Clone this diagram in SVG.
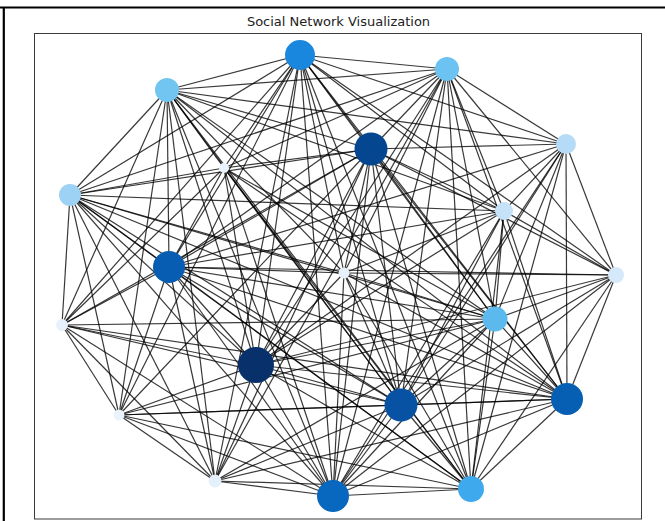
<svg xmlns="http://www.w3.org/2000/svg" width="665" height="521" viewBox="0 0 665 521">
  <style>
    .frame { fill: none; stroke: #000; stroke-width: 2.2; }
    .axes { fill: none; stroke: #3a3a3a; stroke-width: 1; }
    .title { font-family: "DejaVu Sans", "Liberation Sans", sans-serif; font-size: 13px; fill: #222; text-anchor: middle; }
    #edges line { stroke: #000; stroke-opacity: 0.78; stroke-width: 1.2; }
  </style>
  <rect width="665" height="521" fill="#fff"/>
  <!-- figure frame: top and left rules -->
  <path class="frame" d="M0 7.5 H665 M3.8 7.5 V521"/>
  <!-- plot area -->
  <rect class="axes" x="34.5" y="33.5" width="607" height="485.5"/>
  <text class="title" x="338.5" y="26">Social Network Visualization</text>

  <g id="edges">
    <!-- n1 -->
    <line x1="300" y1="55" x2="447" y2="69"/>
    <line x1="300" y1="55" x2="167" y2="90"/>
    <line x1="300" y1="55" x2="371" y2="149"/>
    <line x1="300" y1="55" x2="566" y2="144"/>
    <line x1="300" y1="55" x2="224" y2="168"/>
    <line x1="300" y1="55" x2="70" y2="195"/>
    <line x1="300" y1="55" x2="504" y2="211"/>
    <line x1="300" y1="55" x2="169" y2="267"/>
    <line x1="300" y1="55" x2="344" y2="273"/>
    <line x1="300" y1="55" x2="616" y2="275"/>
    <line x1="300" y1="55" x2="62" y2="325"/>
    <line x1="300" y1="55" x2="495" y2="319"/>
    <line x1="300" y1="55" x2="256" y2="365"/>
    <line x1="300" y1="55" x2="401" y2="405"/>
    <line x1="300" y1="55" x2="567" y2="399"/>
    <line x1="300" y1="55" x2="119" y2="415"/>
    <line x1="300" y1="55" x2="215" y2="481"/>
    <line x1="300" y1="55" x2="333" y2="496"/>
    <line x1="300" y1="55" x2="471" y2="489"/>
    <!-- n2 -->
    <line x1="447" y1="69" x2="167" y2="90"/>
    <line x1="447" y1="69" x2="371" y2="149"/>
    <line x1="447" y1="69" x2="566" y2="144"/>
    <line x1="447" y1="69" x2="224" y2="168"/>
    <line x1="447" y1="69" x2="70" y2="195"/>
    <line x1="447" y1="69" x2="504" y2="211"/>
    <line x1="447" y1="69" x2="169" y2="267"/>
    <line x1="447" y1="69" x2="344" y2="273"/>
    <line x1="447" y1="69" x2="616" y2="275"/>
    <line x1="447" y1="69" x2="495" y2="319"/>
    <line x1="447" y1="69" x2="256" y2="365"/>
    <line x1="447" y1="69" x2="401" y2="405"/>
    <line x1="447" y1="69" x2="567" y2="399"/>
    <line x1="447" y1="69" x2="215" y2="481"/>
    <line x1="447" y1="69" x2="333" y2="496"/>
    <line x1="447" y1="69" x2="471" y2="489"/>
    <!-- n3 -->
    <line x1="167" y1="90" x2="371" y2="149"/>
    <line x1="167" y1="90" x2="566" y2="144"/>
    <line x1="167" y1="90" x2="224" y2="168"/>
    <line x1="167" y1="90" x2="70" y2="195"/>
    <line x1="167" y1="90" x2="504" y2="211"/>
    <line x1="167" y1="90" x2="169" y2="267"/>
    <line x1="167" y1="90" x2="344" y2="273"/>
    <line x1="167" y1="90" x2="62" y2="325"/>
    <line x1="167" y1="90" x2="495" y2="319"/>
    <line x1="167" y1="90" x2="256" y2="365"/>
    <line x1="167" y1="90" x2="401" y2="405"/>
    <line x1="167" y1="90" x2="567" y2="399"/>
    <line x1="167" y1="90" x2="119" y2="415"/>
    <line x1="167" y1="90" x2="215" y2="481"/>
    <line x1="167" y1="90" x2="333" y2="496"/>
    <line x1="167" y1="90" x2="471" y2="489"/>
    <!-- n4 -->
    <line x1="371" y1="149" x2="566" y2="144"/>
    <line x1="371" y1="149" x2="224" y2="168"/>
    <line x1="371" y1="149" x2="70" y2="195"/>
    <line x1="371" y1="149" x2="504" y2="211"/>
    <line x1="371" y1="149" x2="169" y2="267"/>
    <line x1="371" y1="149" x2="344" y2="273"/>
    <line x1="371" y1="149" x2="616" y2="275"/>
    <line x1="371" y1="149" x2="62" y2="325"/>
    <line x1="371" y1="149" x2="495" y2="319"/>
    <line x1="371" y1="149" x2="256" y2="365"/>
    <line x1="371" y1="149" x2="401" y2="405"/>
    <line x1="371" y1="149" x2="567" y2="399"/>
    <line x1="371" y1="149" x2="119" y2="415"/>
    <line x1="371" y1="149" x2="215" y2="481"/>
    <line x1="371" y1="149" x2="333" y2="496"/>
    <line x1="371" y1="149" x2="471" y2="489"/>
    <!-- n5 -->
    <line x1="566" y1="144" x2="504" y2="211"/>
    <line x1="566" y1="144" x2="169" y2="267"/>
    <line x1="566" y1="144" x2="616" y2="275"/>
    <line x1="566" y1="144" x2="495" y2="319"/>
    <line x1="566" y1="144" x2="256" y2="365"/>
    <line x1="566" y1="144" x2="401" y2="405"/>
    <line x1="566" y1="144" x2="567" y2="399"/>
    <line x1="566" y1="144" x2="333" y2="496"/>
    <line x1="566" y1="144" x2="471" y2="489"/>
    <!-- n6 -->
    <line x1="224" y1="168" x2="70" y2="195"/>
    <line x1="224" y1="168" x2="169" y2="267"/>
    <line x1="224" y1="168" x2="62" y2="325"/>
    <line x1="224" y1="168" x2="495" y2="319"/>
    <line x1="224" y1="168" x2="256" y2="365"/>
    <line x1="224" y1="168" x2="401" y2="405"/>
    <line x1="224" y1="168" x2="567" y2="399"/>
    <line x1="224" y1="168" x2="333" y2="496"/>
    <line x1="224" y1="168" x2="471" y2="489"/>
    <!-- n7 -->
    <line x1="70" y1="195" x2="504" y2="211"/>
    <line x1="70" y1="195" x2="169" y2="267"/>
    <line x1="70" y1="195" x2="344" y2="273"/>
    <line x1="70" y1="195" x2="62" y2="325"/>
    <line x1="70" y1="195" x2="495" y2="319"/>
    <line x1="70" y1="195" x2="256" y2="365"/>
    <line x1="70" y1="195" x2="401" y2="405"/>
    <line x1="70" y1="195" x2="567" y2="399"/>
    <line x1="70" y1="195" x2="119" y2="415"/>
    <line x1="70" y1="195" x2="215" y2="481"/>
    <line x1="70" y1="195" x2="333" y2="496"/>
    <line x1="70" y1="195" x2="471" y2="489"/>
    <!-- n8 -->
    <line x1="504" y1="211" x2="169" y2="267"/>
    <line x1="504" y1="211" x2="344" y2="273"/>
    <line x1="504" y1="211" x2="616" y2="275"/>
    <line x1="504" y1="211" x2="495" y2="319"/>
    <line x1="504" y1="211" x2="256" y2="365"/>
    <line x1="504" y1="211" x2="401" y2="405"/>
    <line x1="504" y1="211" x2="567" y2="399"/>
    <line x1="504" y1="211" x2="333" y2="496"/>
    <line x1="504" y1="211" x2="471" y2="489"/>
    <!-- n9 -->
    <line x1="169" y1="267" x2="344" y2="273"/>
    <line x1="169" y1="267" x2="616" y2="275"/>
    <line x1="169" y1="267" x2="62" y2="325"/>
    <line x1="169" y1="267" x2="495" y2="319"/>
    <line x1="169" y1="267" x2="256" y2="365"/>
    <line x1="169" y1="267" x2="401" y2="405"/>
    <line x1="169" y1="267" x2="567" y2="399"/>
    <line x1="169" y1="267" x2="119" y2="415"/>
    <line x1="169" y1="267" x2="215" y2="481"/>
    <line x1="169" y1="267" x2="333" y2="496"/>
    <line x1="169" y1="267" x2="471" y2="489"/>
    <!-- n10 -->
    <line x1="344" y1="273" x2="616" y2="275"/>
    <line x1="344" y1="273" x2="495" y2="319"/>
    <line x1="344" y1="273" x2="256" y2="365"/>
    <line x1="344" y1="273" x2="401" y2="405"/>
    <line x1="344" y1="273" x2="567" y2="399"/>
    <line x1="344" y1="273" x2="333" y2="496"/>
    <line x1="344" y1="273" x2="471" y2="489"/>
    <!-- n11 -->
    <line x1="616" y1="275" x2="495" y2="319"/>
    <line x1="616" y1="275" x2="256" y2="365"/>
    <line x1="616" y1="275" x2="401" y2="405"/>
    <line x1="616" y1="275" x2="567" y2="399"/>
    <line x1="616" y1="275" x2="333" y2="496"/>
    <line x1="616" y1="275" x2="471" y2="489"/>
    <!-- n12 -->
    <line x1="62" y1="325" x2="495" y2="319"/>
    <line x1="62" y1="325" x2="256" y2="365"/>
    <line x1="62" y1="325" x2="401" y2="405"/>
    <line x1="62" y1="325" x2="567" y2="399"/>
    <line x1="62" y1="325" x2="119" y2="415"/>
    <line x1="62" y1="325" x2="215" y2="481"/>
    <line x1="62" y1="325" x2="333" y2="496"/>
    <!-- n13 -->
    <line x1="495" y1="319" x2="256" y2="365"/>
    <line x1="495" y1="319" x2="401" y2="405"/>
    <line x1="495" y1="319" x2="567" y2="399"/>
    <line x1="495" y1="319" x2="119" y2="415"/>
    <line x1="495" y1="319" x2="215" y2="481"/>
    <line x1="495" y1="319" x2="333" y2="496"/>
    <line x1="495" y1="319" x2="471" y2="489"/>
    <!-- n14 -->
    <line x1="256" y1="365" x2="401" y2="405"/>
    <line x1="256" y1="365" x2="567" y2="399"/>
    <line x1="256" y1="365" x2="119" y2="415"/>
    <line x1="256" y1="365" x2="215" y2="481"/>
    <line x1="256" y1="365" x2="333" y2="496"/>
    <line x1="256" y1="365" x2="471" y2="489"/>
    <!-- n15 -->
    <line x1="401" y1="405" x2="567" y2="399"/>
    <line x1="401" y1="405" x2="119" y2="415"/>
    <line x1="401" y1="405" x2="215" y2="481"/>
    <line x1="401" y1="405" x2="333" y2="496"/>
    <line x1="401" y1="405" x2="471" y2="489"/>
    <!-- n16 -->
    <line x1="567" y1="399" x2="119" y2="415"/>
    <line x1="567" y1="399" x2="215" y2="481"/>
    <line x1="567" y1="399" x2="333" y2="496"/>
    <line x1="567" y1="399" x2="471" y2="489"/>
    <!-- n17 .. n19 -->
    <line x1="119" y1="415" x2="215" y2="481"/>
    <line x1="119" y1="415" x2="333" y2="496"/>
    <line x1="119" y1="415" x2="471" y2="489"/>
    <line x1="215" y1="481" x2="333" y2="496"/>
    <line x1="215" y1="481" x2="471" y2="489"/>
    <line x1="333" y1="496" x2="471" y2="489"/>
  </g>

  <g id="n1"><circle cx="300" cy="55" r="15" fill="#1a87de"/></g>
  <g id="n2"><circle cx="447" cy="69" r="12" fill="#6cc2f0"/></g>
  <g id="n3"><circle cx="167" cy="90" r="12" fill="#72c5f0"/></g>
  <g id="n4"><circle cx="371" cy="149" r="16.5" fill="#04468f"/></g>
  <g id="n5"><circle cx="566" cy="144" r="10" fill="#b6dbf6"/></g>
  <g id="n6"><circle cx="224" cy="168" r="5" fill="#e9f3fd"/></g>
  <g id="n7"><circle cx="70" cy="195" r="11" fill="#9dd2f4"/></g>
  <g id="n8"><circle cx="504" cy="211" r="9" fill="#c6e2f9"/></g>
  <g id="n9"><circle cx="169" cy="267" r="16" fill="#065db2"/></g>
  <g id="n10"><circle cx="344" cy="273" r="5.5" fill="#e6f1fc"/></g>
  <g id="n11"><circle cx="616" cy="275" r="8" fill="#d6e9fb"/></g>
  <g id="n12"><circle cx="62" cy="325" r="6" fill="#e6f1fc"/></g>
  <g id="n13"><circle cx="495" cy="319" r="12.5" fill="#5bb9ee"/></g>
  <g id="n14"><circle cx="256" cy="365" r="18" fill="#08306b"/></g>
  <g id="n15"><circle cx="401" cy="405" r="16.5" fill="#0752a2"/></g>
  <g id="n16"><circle cx="567" cy="399" r="16" fill="#065fb3"/></g>
  <g id="n17"><circle cx="119" cy="415" r="5.5" fill="#eaf3fc"/></g>
  <g id="n18"><circle cx="215" cy="481" r="6.5" fill="#e4f0fb"/></g>
  <g id="n19"><circle cx="333" cy="496" r="16" fill="#0867bf"/></g>
  <g id="n20"><circle cx="471" cy="489" r="13" fill="#3fa9ee"/></g>
</svg>
